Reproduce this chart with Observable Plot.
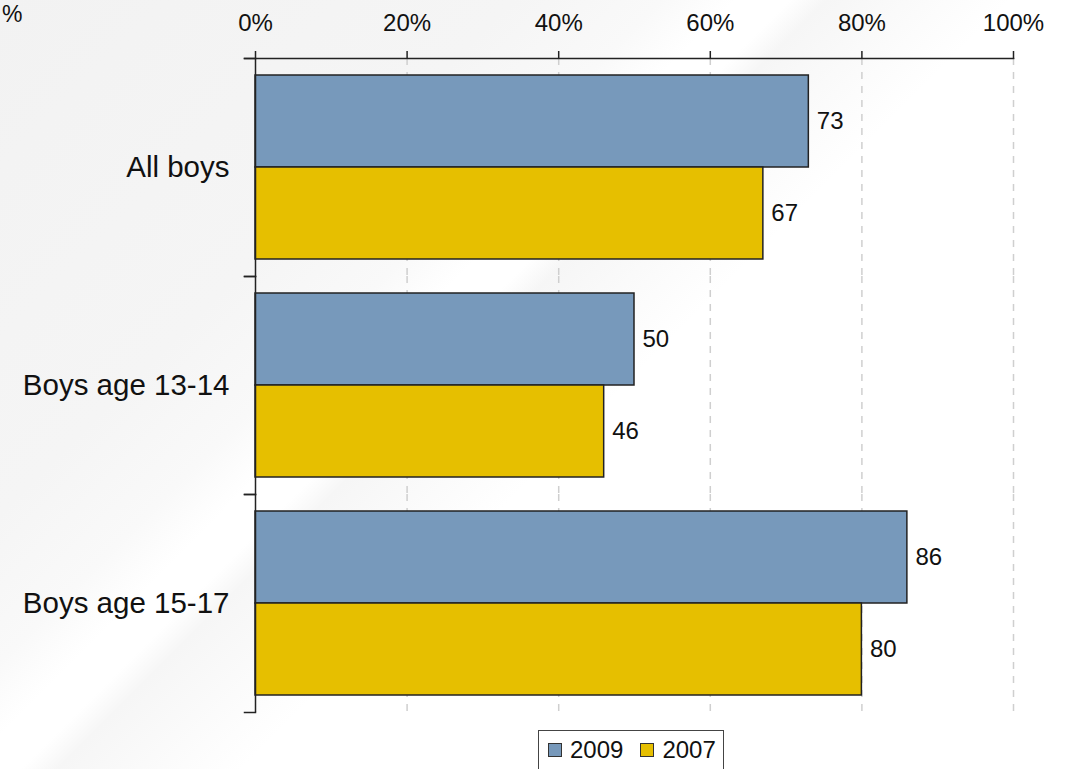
<!DOCTYPE html>
<html>
<head>
<meta charset="utf-8">
<script src="https://cdn.jsdelivr.net/npm/d3@7"></script>
<script src="https://cdn.jsdelivr.net/npm/@observablehq/plot@0.6"></script>
<style>
  html, body { margin: 0; padding: 0; width: 1068px; height: 769px; overflow: hidden; }
  body {
    font-family: "Liberation Sans", Arial, sans-serif;
    background: linear-gradient(135deg, #f2f2f2 0%, #f5f5f5 28%, #f9f9f9 36%, #ffffff 40%, #ffffff 43%, #f6f6f6 45%, #ffffff 55%, #ffffff 100%);
  }
  #wrap { position: relative; width: 1068px; height: 769px; overflow: hidden; }
  #chart svg { display: block; background: transparent; }
  #cut { position: absolute; left: 2px; top: 3px; font-size: 23px; line-height: 23px; color: #111; white-space: nowrap; }
  #legend {
    position: absolute; left: 538px; top: 730px; width: 186px; height: 70px;
    border: 1.5px solid #444; box-sizing: border-box; background: #fff;
    display: flex; align-items: flex-start; padding: 5px 0 0 9px; font-size: 24px; line-height: 28px; color: #111;
  }
  #legend .item { display: flex; align-items: center; margin-right: 17px; }
  #legend .sw { width: 12px; height: 12px; border: 1.5px solid #333; margin-right: 8px; }
</style>
</head>
<body>
<div id="wrap">
  <div id="chart"></div>
  <div id="cut">%</div>
  <div id="legend"></div>
</div>
<script>
// ---- data ----
const categories = ["All boys", "Boys age 13-14", "Boys age 15-17"];
const series = ["2009", "2007"];
const values2009 = [73, 50, 86];
const values2007 = [67, 46, 80];
const tickValues = [0, 20, 40, 60, 80, 100];
const gridValues = [20, 40, 60, 80, 100];
const colors = ["#7799bb", "#e6bf00"];

const rows = [];
categories.forEach((c, i) => {
  rows.push({category: c, series: "2009", value: values2009[i]});
  rows.push({category: c, series: "2007", value: values2007[i]});
});

const W = 1068, ML = 255, MR = 55;
const plotWidth = W - ML - MR;

const chart = Plot.plot({
  width: W,
  height: 720,
  marginLeft: ML,
  marginRight: MR,
  marginTop: 57,
  marginBottom: 7,
  style: {fontFamily: "'Liberation Sans', Arial, sans-serif", color: "#111", background: "transparent"},
  x: {domain: [0, 100]},
  y: {domain: series, paddingInner: 0, paddingOuter: 0.18, axis: null},
  fy: {domain: categories, padding: 0},
  color: {domain: series, range: colors},
  marks: [
    Plot.ruleX(gridValues, {stroke: "#cfcfcf", strokeWidth: 1.5, strokeDasharray: "7,7"}),
    Plot.barX(rows, {x: "value", y: "series", fy: "category", fill: "series", stroke: "#222", strokeWidth: 1.5}),
    Plot.text(rows, {x: "value", y: "series", fy: "category", text: d => String(d.value), textAnchor: "start", dx: 8, fontSize: 24, fill: "#111"}),
    Plot.ruleX([0], {stroke: "#222", strokeWidth: 1.5}),
    Plot.frame({anchor: "top", stroke: "#222", strokeWidth: 1.5, insetLeft: -11, insetRight: plotWidth}),
    Plot.frame({anchor: "bottom", stroke: "#222", strokeWidth: 1.5, insetLeft: -11, insetRight: plotWidth}),
    Plot.frame({anchor: "top", facet: "super", stroke: "#222", strokeWidth: 1.5, insetLeft: -11}),
    Plot.axisX({anchor: "top", ticks: tickValues, tickSize: 8, tickPadding: 20, tickFormat: d => d + "%", fontSize: 24, label: null, stroke: "#222", strokeWidth: 1.5}),
    Plot.axisFy({anchor: "left", tickSize: 0, tickPadding: 26, fontSize: 29.5, label: null})
  ]
});
document.getElementById("chart").appendChild(chart);

const legend = document.getElementById("legend");
series.forEach((s, i) => {
  const item = document.createElement("div");
  item.className = "item";
  const sw = document.createElement("div");
  sw.className = "sw";
  sw.style.background = colors[i];
  const t = document.createElement("span");
  t.textContent = s;
  item.appendChild(sw);
  item.appendChild(t);
  legend.appendChild(item);
});
</script>
</body>
</html>
